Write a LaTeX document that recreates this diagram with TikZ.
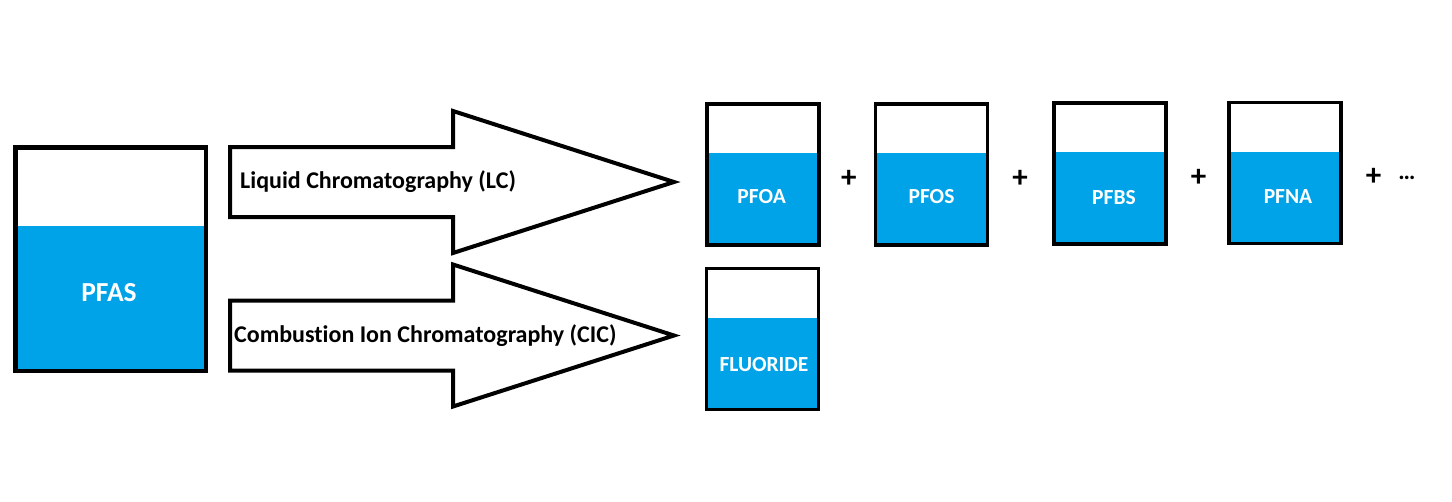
\documentclass[tikz,border=0pt]{standalone}
\usepackage{fontspec}
\setmainfont{Carlito}[Ligatures=CommonOff]
\usetikzlibrary{calc}
\definecolor{liquid}{RGB}{0,162,232}
\tikzset{
    px grid/.style    = {x=1pt, y=-1pt},
    beaker/.style     = {draw, line width=3.2pt, inner sep=0pt,
                         minimum width=112pt, minimum height=141pt,
                         path picture={\fill[liquid]
                           (path picture bounding box.south west) rectangle
                           ($(path picture bounding box.south east)!0.65!(path picture bounding box.north east)$);}},
    big beaker/.style = {beaker, line width=4.5pt,
                         minimum width=190.5pt, minimum height=223.5pt},
    beakername/.style = {text=white, inner sep=0pt,
                         font=\bfseries\fontsize{21.5}{21.5}\selectfont},
    big name/.style   = {beakername, font=\bfseries\fontsize{27.5}{27.5}\selectfont},
    method/.style     = {anchor=west, inner sep=0pt,
                         font=\bfseries\fontsize{24}{24}\selectfont},
    plussign/.style   = {inner sep=0pt, font=\bfseries\fontsize{31}{31}\selectfont},
    fat arrow/.style  = {draw, line width=4pt, line join=miter}
}

\begin{document}
\begin{tikzpicture}[px grid]
\useasboundingbox (0,0) rectangle (1452,501);

% ================= Sample =================
\node[big beaker] (pfas) at (110.75, 259.25) {};
\node[big name] (pfas-name) at (109, 293) {PFAS};

% ================= Methods =================
\foreach \y in {182, 335.5} {
  \draw[fat arrow] (230,\y-35) -- (453,\y-35) -- (453,\y-71) -- (674,\y)
      -- (453,\y+71) -- (453,\y+35) -- (230,\y+35) -- cycle;
}
\node[method] (lc) at (240, 182) {Liquid Chromatography (LC)};
\node[method] (cic) at (234, 335.5) {Combustion Ion Chromatography (CIC)};

% ================= LC results =================
\node[beaker] (pfoa) at (762.9, 174.5) {};
\node[beaker] (pfos) at (931.7, 174.5) {};
\node[beaker] (pfbs) at (1110, 173.5) {};
\node[beaker] (pfna) at (1285, 172.7) {};
\node[beakername] (pfoa-name) at (761.7, 197) {PFOA};
\node[beakername] (pfos-name) at (931.5, 197) {PFOS};
\node[beakername] (pfbs-name) at (1114, 197.3) {PFBS};
\node[beakername] (pfna-name) at (1288, 197) {PFNA};
\node[plussign] (plus1) at (848.8, 178.8) {+};
\node[plussign] (plus2) at (1020, 178.5) {+};
\node[plussign] (plus3) at (1198.7, 177.5) {+};
\node[plussign] (plus4) at (1373.6, 176.7) {+};
\node[inner sep=0pt, font=\bfseries\fontsize{24}{24}\selectfont]
    (more) at (1407, 178.3) {…};

% ================= CIC result =================
\node[beaker] (fluoride) at (762.5, 339.2) {};
\node[beakername] (fluoride-name) at (764, 365) {FLUORIDE};

\end{tikzpicture}
\end{document}
